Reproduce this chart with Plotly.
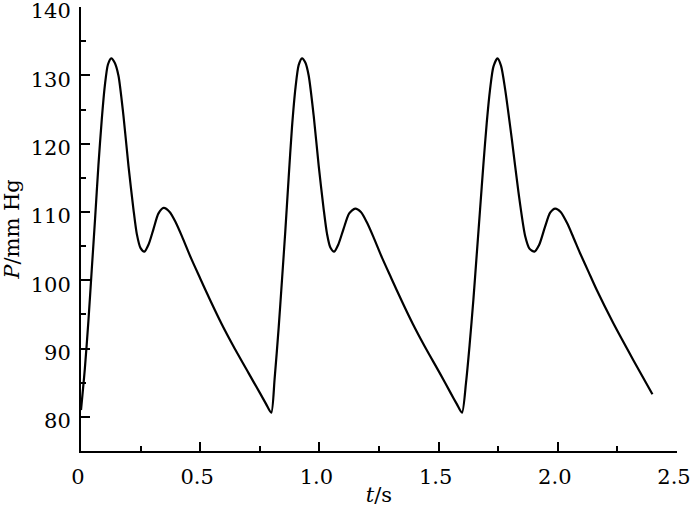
import plotly.graph_objects as go

# Time (s) and pressure (mm Hg)
t_s = [0.000, 0.016, 0.031, 0.045, 0.059, 0.073, 0.087, 0.100, 0.113, 0.127, 0.141, 0.157, 0.178, 0.199, 0.220, 0.234, 0.250, 0.266, 0.284, 0.304, 0.325, 0.347, 0.372, 0.397, 0.424, 0.462, 0.501, 0.543, 0.590, 0.640, 0.703, 0.752, 0.776, 0.798,
       0.812, 0.829, 0.843, 0.857, 0.871, 0.885, 0.900, 0.913, 0.927, 0.941, 0.955, 0.976, 0.997, 1.018, 1.032, 1.046, 1.062, 1.080, 1.101, 1.125, 1.150, 1.174, 1.199, 1.226, 1.264, 1.303, 1.345, 1.392, 1.442, 1.505, 1.552, 1.576, 1.598,
       1.615, 1.630, 1.646, 1.660, 1.674, 1.688, 1.702, 1.716, 1.730, 1.747, 1.762, 1.779, 1.807, 1.835, 1.863, 1.882, 1.902, 1.922, 1.947, 1.968, 1.989, 2.012, 2.040, 2.065, 2.093, 2.128, 2.163, 2.233, 2.317, 2.397]
p_mmhg = [81.0, 87.0, 94.0, 101.5, 109.0, 116.8, 123.5, 128.5, 131.6, 132.5, 131.9, 130.0, 124.1, 116.8, 110.4, 106.8, 104.7, 104.2, 105.3, 107.5, 109.8, 110.6, 110.0, 108.5, 106.4, 103.2, 100.2, 97.0, 93.6, 90.3, 86.4, 83.4, 81.9, 80.6,
          85.5, 93.0, 100.0, 107.2, 115.0, 122.4, 128.3, 131.5, 132.5, 131.9, 130.0, 124.1, 116.8, 110.4, 106.8, 104.8, 104.2, 105.3, 107.5, 109.8, 110.5, 110.0, 108.5, 106.4, 103.2, 100.2, 97.0, 93.6, 90.3, 86.4, 83.4, 81.9, 80.6,
          85.0, 90.5, 97.2, 103.8, 110.4, 117.0, 123.1, 128.0, 131.3, 132.5, 131.4, 128.0, 120.7, 112.9, 106.5, 104.6, 104.2, 105.2, 107.9, 109.9, 110.5, 110.0, 108.3, 106.3, 104.0, 101.3, 98.6, 93.7, 88.3, 83.3]

x_tickvals = [0, 0.5, 1.0, 1.5, 2.0, 2.5]
x_ticktext = ["0", "0.5", "1.0", "1.5", "2.0", "2.5"]
y_tickvals = [80, 90, 100, 110, 120, 130, 140]

serif = "DejaVu Serif, Liberation Serif, serif"
fs = 21

fig = go.Figure()
fig.add_trace(go.Scatter(
    x=t_s, y=p_mmhg, mode="lines",
    line=dict(color="black", width=2.2, shape="spline", smoothing=0.7),
    showlegend=False, hoverinfo="skip",
))

fig.update_layout(
    width=700, height=507,
    margin=dict(l=81, r=23, t=7, b=56),
    paper_bgcolor="white", plot_bgcolor="white",
    font=dict(family=serif, size=fs, color="black"),
    xaxis=dict(
        range=[0, 2.5], tickvals=x_tickvals, ticktext=x_ticktext,
        ticks="inside", ticklen=9, tickwidth=1.5, tickcolor="black",
        minor=dict(ticks="inside", ticklen=5, tickwidth=1.5, tickcolor="black", dtick=0.25, tick0=0, showgrid=False),
        showline=True, linecolor="black", linewidth=2, showgrid=False, zeroline=False,
        title=dict(text="<i>t</i>/s", standoff=0, font=dict(size=fs)),
        tickfont=dict(size=fs), automargin=False, ticklabeloverflow="allow",
        ticklabelstandoff=6, ticklabelshift=-3,
    ),
    yaxis=dict(
        range=[75, 140.02], tickvals=y_tickvals,
        ticks="inside", ticklen=9, tickwidth=1.5, tickcolor="black",
        minor=dict(ticks="inside", ticklen=5, tickwidth=1.5, tickcolor="black", dtick=5, tick0=75, showgrid=False),
        showline=True, linecolor="black", linewidth=2, showgrid=False, zeroline=False,
        title=dict(text="<i>P</i>/mm Hg", standoff=6, font=dict(size=fs)),
        tickfont=dict(size=fs), ticklabelstandoff=4, automargin=False, ticklabeloverflow="allow",
        ticklabelshift=4,
    ),
)

fig.write_html("out.html", config={"displayModeBar": False},
               post_script="document.body.style.margin='0';document.body.style.padding='0';")
